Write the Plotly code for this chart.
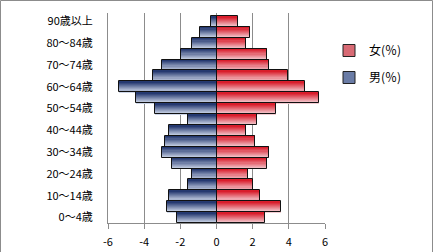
import plotly.graph_objects as go

age_labels = ["0～4歳", "5～9歳", "10～14歳", "15～19歳", "20～24歳", "25～29歳",
              "30～34歳", "35～39歳", "40～44歳", "45～49歳", "50～54歳", "55～59歳",
              "60～64歳", "65～69歳", "70～74歳", "75～79歳", "80～84歳", "85～89歳",
              "90歳以上"]
male = [-2.18, -2.75, -2.62, -1.57, -1.38, -2.46, -3.03, -2.84, -2.62, -1.57,
        -3.38, -4.43, -5.39, -3.51, -3.01, -1.96, -1.38, -0.89, -0.33]
female = [2.69, 3.58, 2.42, 2.03, 1.75, 2.80, 2.91, 2.14, 1.62, 2.25,
          3.28, 5.68, 4.91, 3.98, 2.90, 2.79, 1.62, 1.86, 1.20]
x_ticks = [-6, -4, -2, 0, 2, 4, 6]

FONT = "Noto Sans CJK JP, Noto Sans, sans-serif"
ypos = list(range(len(age_labels)))

def lerp(c1, c2, t):
    return "rgb(%d,%d,%d)" % tuple(round(a + (b - a) * t) for a, b in zip(c1, c2))

blue_top, blue_bot = (28, 48, 105), (215, 224, 240)
red_top, red_bot = (215, 20, 35), (246, 215, 220)

fig = go.Figure()
N = 10
for vals, ctop, cbot in [(male, blue_top, blue_bot), (female, red_top, red_bot)]:
    for k in range(N):
        t = 1 - (k + 0.5) / N  # k=0 bottom (light), k=N-1 top (dark)
        fig.add_trace(go.Bar(
            x=vals, y=ypos, orientation="h",
            width=1.0 / N, offset=-0.5 + k / N,
            marker=dict(color=lerp(ctop, cbot, t), line=dict(width=0)),
            showlegend=False, hoverinfo="skip"))
    fig.add_trace(go.Bar(
        x=vals, y=ypos, orientation="h", width=1.0, offset=-0.5,
        marker=dict(color="rgba(0,0,0,0)", line=dict(color="#111", width=1)),
        showlegend=False, hoverinfo="skip"))

fig.add_trace(go.Bar(x=[None], y=[None], orientation="h", name="女(％)",
                     marker=dict(color="#d86a74", line=dict(color="#222", width=1)),
                     legendgroup="f", legendrank=1))
fig.add_trace(go.Bar(x=[None], y=[None], orientation="h", name="男(％)",
                     marker=dict(color="#6a7ca6", line=dict(color="#222", width=1)),
                     legendgroup="m", legendrank=2))

W, H = 433, 252
ml, mr, mt, mb = 108, 108, 13, 29
pw, ph = W - ml - mr, H - mt - mb

fig.add_shape(type="rect", xref="paper", yref="paper",
              x0=(0.5 - ml) / pw, x1=(W - 0.5 - ml) / pw,
              y0=(H - mt - ph - (H - 0.5)) / ph + 0, y1=(mt + ph - 0.5) / ph,
              line=dict(color="#8c8c8c", width=1), layer="above")

fig.update_layout(
    width=W, height=H, margin=dict(l=ml, r=mr, t=mt, b=mb, autoexpand=False),
    paper_bgcolor="white", plot_bgcolor="white",
    barmode="overlay", bargap=0,
    font=dict(family=FONT, size=11, color="black"),
    legend=dict(x=(329 - ml) / pw, y=(mt + ph - 36) / ph, xanchor="left", yanchor="top",
                font=dict(family=FONT, size=12), traceorder="grouped",
                tracegroupgap=8, itemwidth=30, bgcolor="rgba(0,0,0,0)"),
    xaxis=dict(range=[-6, 6], tickvals=x_ticks, ticktext=[str(v) for v in x_ticks],
               showgrid=True, gridcolor="#8c8c8c", gridwidth=1,
               zeroline=True, zerolinecolor="#8c8c8c", zerolinewidth=1,
               showline=True, linecolor="#8c8c8c", linewidth=1,
               ticks="outside", ticklen=5, tickcolor="#8c8c8c", ticklabelstandoff=4,
               automargin=False,
               tickfont=dict(family=FONT, size=11), fixedrange=True),
    yaxis=dict(range=[-0.5, 18.77], tickvals=ypos[::2], ticktext=age_labels[::2],
               showgrid=False, zeroline=False,
               showline=True, linecolor="#8c8c8c", linewidth=1,
               ticks="", ticklabelstandoff=12, automargin=False,
               tickfont=dict(family=FONT, size=11), fixedrange=True),
)

fig.write_html("out.html")
